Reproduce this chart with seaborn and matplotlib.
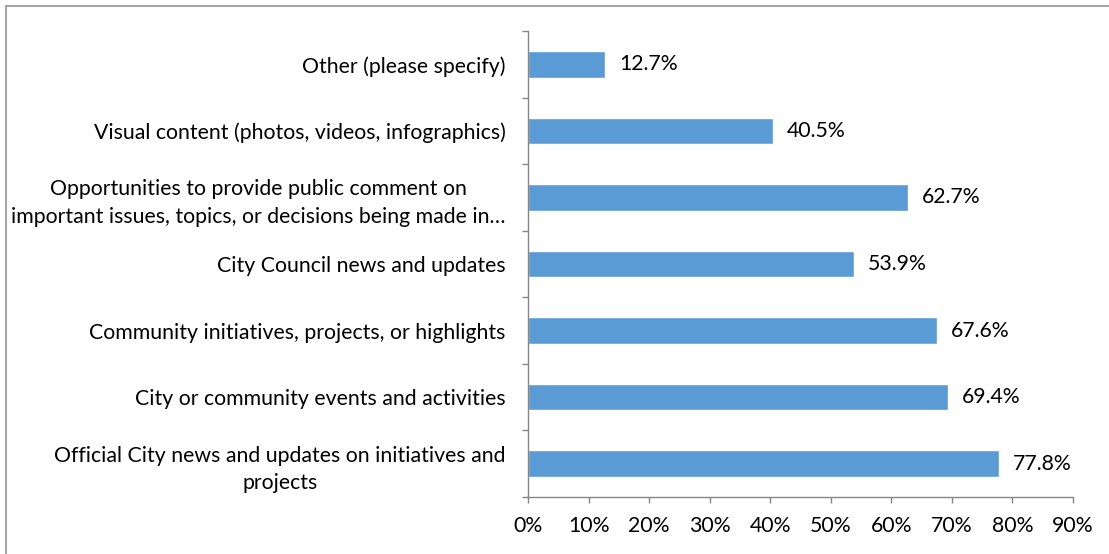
import matplotlib
matplotlib.use("Agg")
import matplotlib.pyplot as plt
import seaborn as sns
import pandas as pd
from matplotlib.patches import Rectangle
from matplotlib.ticker import FixedLocator, FuncFormatter

categories = [
    "Other (please specify)",
    "Visual content (photos, videos, infographics)",
    "Opportunities to provide public comment on\nimportant issues, topics, or decisions being made in…",
    "City Council news and updates",
    "Community initiatives, projects, or highlights",
    "City or community events and activities",
    "Official City news and updates on initiatives and\nprojects",
]
values = [12.7, 40.5, 62.7, 53.9, 67.6, 69.4, 77.8]
x_ticks = [0, 10, 20, 30, 40, 50, 60, 70, 80, 90]

sns.set_theme(style="white")
plt.rcParams["font.family"] = ["Lato", "DejaVu Sans"]

W, H = 1109, 554
fig = plt.figure(figsize=(W / 100, H / 100), dpi=100)
ax = fig.add_axes([528 / W, 1 - 497 / H, (1073 - 528) / W, (497 - 31) / H])

df = pd.DataFrame({"category": categories, "value": values})
sns.barplot(data=df, x="value", y="category", orient="h", color="#5B9BD5",
            saturation=1, width=0.4, ax=ax)

ax.set_xlim(0, 90)
ax.set_ylim(len(categories) - 0.5, -0.5)
ax.set_xlabel("")
ax.set_ylabel("")

fs = 15.3
gray = "#868686"
for s in ["top", "right"]:
    ax.spines[s].set_visible(False)
for s in ["left", "bottom"]:
    ax.spines[s].set_color(gray)
    ax.spines[s].set_linewidth(1.0)

ax.xaxis.set_major_locator(FixedLocator(x_ticks))
ax.xaxis.set_major_formatter(FuncFormatter(lambda v, p: f"{v:.0f}%"))
ax.tick_params(axis="x", which="major", bottom=True, length=4.5, width=1,
               color=gray, labelsize=fs, pad=9, labelcolor="black")

ax.set_yticks(range(len(categories)))
ax.set_yticklabels(categories)
ax.yaxis.set_minor_locator(FixedLocator([i - 0.5 for i in range(len(categories) + 1)]))
ax.tick_params(axis="y", which="major", left=False, length=0, labelsize=fs,
               pad=16, labelcolor="black")
ax.tick_params(axis="y", which="minor", left=True, length=4.5, width=1, color=gray)
for lbl in ax.get_yticklabels():
    lbl.set_multialignment("center")
    lbl.set_linespacing(1.45)

for i, v in enumerate(values):
    ax.annotate(f"{v:.1f}%", xy=(v, i), xytext=(10, 0), textcoords="offset points",
                va="center", ha="left", fontsize=fs, color="black")

fig.patches.append(Rectangle((5.5 / W, -0.5), 2, 1.5 - 5.5 / H, transform=fig.transFigure,
                             fill=False, edgecolor="#A6A6A6", linewidth=1.5))

fig.savefig("out.png", dpi=100, facecolor="white")
